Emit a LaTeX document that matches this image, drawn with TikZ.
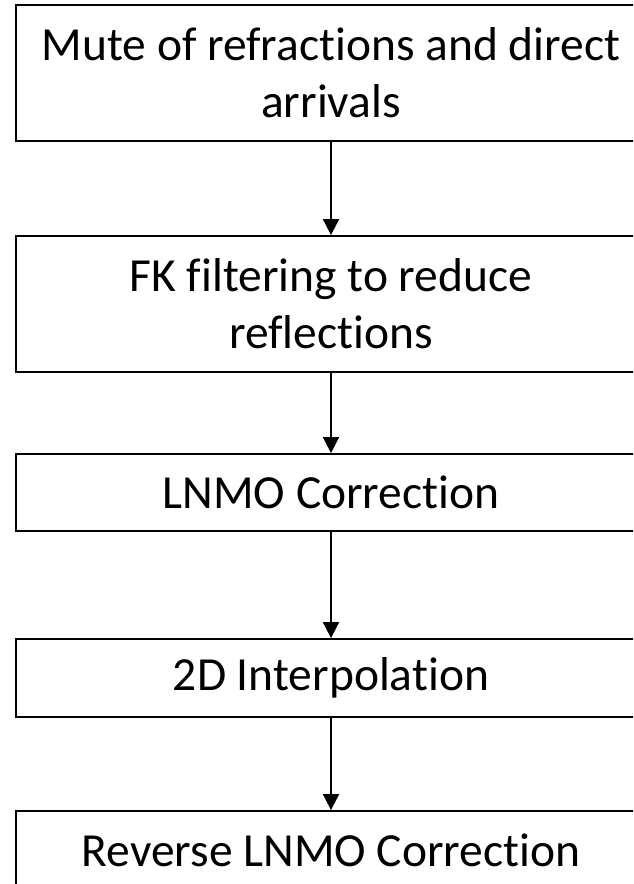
\documentclass[tikz,border=0pt]{standalone}
\usepackage{fontspec}
\setmainfont{Carlito}[Ligatures=NoCommon]
\usetikzlibrary{arrows.meta}
\begin{document}
\begin{tikzpicture}[x=1pt,y=-1pt,
  stepbox/.style={draw,line width=1.8pt,minimum width=630pt,inner sep=0pt,align=center,font=\fontsize{47.5}{57}\selectfont},
  flow/.style={line width=1.8pt,-{Triangle[width=16pt,length=16pt]}}]
\useasboundingbox (0,0) rectangle (633,884);
\clip (0,0) rectangle (633,884);
\node[stepbox,minimum height=136pt] (a) at (331,73) {Mute of refractions and direct\\arrivals};
\node[stepbox,minimum height=136pt] (b) at (331,304) {FK filtering to reduce\\reflections};
\node[stepbox,minimum height=77pt] (c) at (331,492.5) {LNMO Correction};
\node[stepbox,minimum height=78pt] (d) at (331,678) {2D Interpolation};
\node[stepbox,minimum height=78pt] (e) at (331,850) {Reverse LNMO Correction};
\draw[flow] (a) -- (b);
\draw[flow] (b) -- (c);
\draw[flow] (c) -- (d);
\draw[flow] (d) -- (e);
\end{tikzpicture}
\end{document}
